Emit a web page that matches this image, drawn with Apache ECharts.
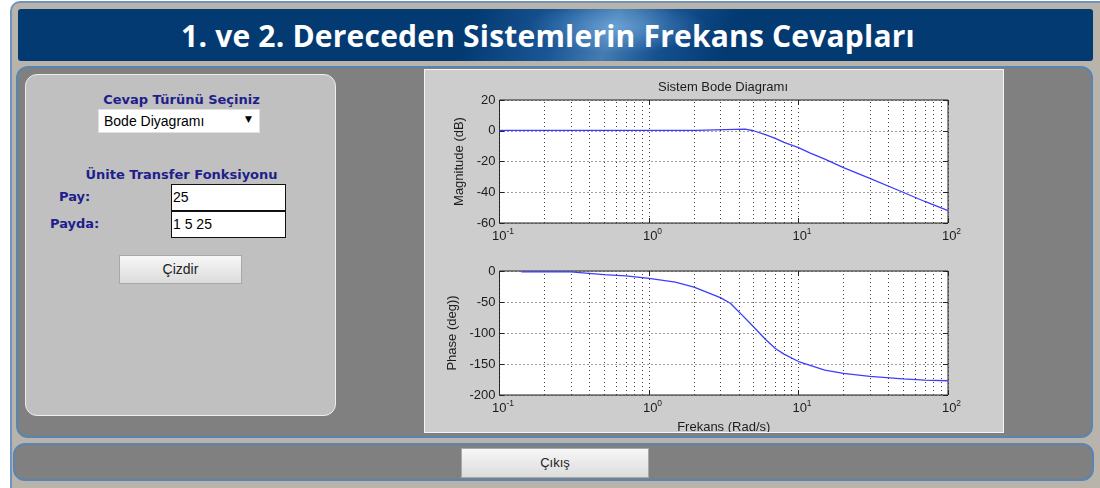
<!DOCTYPE html>
<html><head><meta charset="utf-8">
<script src="https://cdn.jsdelivr.net/npm/echarts@6/dist/echarts.min.js"></script>
<style>
html,body{margin:0;padding:0;width:1100px;height:488px;overflow:hidden;background:#fff;}
.a{position:absolute;box-sizing:border-box;}
#outer{left:10px;top:1px;width:1100px;height:500px;background:#b8b4ab;border:2px solid #6f93bb;border-radius:10px;}
#banner{left:18px;top:9px;width:1075px;height:52px;border-radius:3px;
 background:
  radial-gradient(ellipse 90px 26px at 600px 18px, rgba(150,205,255,0.45), rgba(150,205,255,0) 100%),
  linear-gradient(110deg, rgba(0,0,0,0) 42%, rgba(70,140,220,0.35) 50%, rgba(150,205,255,0.45) 55%, rgba(60,130,210,0.3) 60%, rgba(0,0,0,0) 66%),
  #033a72;}
#title{left:18px;top:15px;width:1060px;height:30px;line-height:30px;text-align:center;color:#fff;font:bold 30px "Open Sans",sans-serif;white-space:nowrap;letter-spacing:0.2px;}
#main{left:16px;top:66px;width:1077px;height:372px;background:#808080;border:2px solid #5b84b1;border-radius:12px;}
#left{left:25px;top:74px;width:311px;height:342px;background:#c0c0c0;border:1.5px solid #eeeeee;border-radius:12px;}
.lbl{color:#1e1e8c;font:bold 13px "DejaVu Sans",Verdana,sans-serif;white-space:nowrap;height:16px;line-height:16px;}
#sel{left:98px;top:109px;width:162px;height:24px;background:#fff;border:1px solid #e0e0e0;font:14px "Liberation Sans",Arial,sans-serif;line-height:22px;padding-left:5px;color:#000;}
#arrow{left:245px;top:114px;height:12px;line-height:12px;font:9px "DejaVu Sans",sans-serif;color:#000;}
.inp{background:#fff;border:1.5px solid #111;font:14px "Liberation Sans",Arial,sans-serif;color:#000;padding-left:1px;}
.btn{border:1px solid #a8a8a8;background:linear-gradient(#f7f7f7,#dcdcdc);font:14px "Liberation Sans",Arial,sans-serif;color:#222;text-align:center;}
#chartbox{left:424px;top:69px;width:580px;height:364px;background:#cdcdcd;border:1px solid #f5f5f5;}
#chart{position:absolute;left:425px;top:70px;width:578px;height:362px;}
#bottom{left:13px;top:443px;width:1081px;height:38px;background:#808080;border:2px solid #5b84b1;border-radius:12px;}
</style></head><body>
<div class="a" id="outer"></div>
<div class="a" id="banner"></div>
<div class="a" id="title">1. ve 2. Dereceden Sistemlerin Frekans Cevapları</div>
<div class="a" id="main"></div>
<div class="a" id="left"></div>
<div class="a lbl" style="left:25px;top:92px;width:313px;text-align:center;">Cevap Türünü Seçiniz</div>
<div class="a" id="sel">Bode Diyagramı</div>
<div class="a" id="arrow">▼</div>
<div class="a lbl" style="left:25px;top:167px;width:313px;text-align:center;">Ünite Transfer Fonksiyonu</div>
<div class="a lbl" style="left:59px;top:189px;">Pay:</div>
<div class="a lbl" style="left:50px;top:216px;">Payda:</div>
<div class="a inp" style="left:171px;top:184px;width:115px;height:27px;line-height:24px;">25</div>
<div class="a inp" style="left:171px;top:211px;width:115px;height:27px;line-height:24px;">1 5 25</div>
<div class="a btn" style="left:119px;top:255px;width:123px;height:29px;line-height:27px;">Çizdir</div>
<div class="a" id="chartbox"></div>
<div id="chart"></div>
<div class="a" id="bottom"></div>
<div class="a btn" style="left:461px;top:448px;width:188px;height:30px;line-height:28px;font-size:13px;">Çıkış</div>
<script>
// ---- data ----
const magFreq  = [0.1, 0.2, 0.5, 1, 2.05, 2.1, 4.4, 5, 6, 7, 8, 10, 12, 15, 20, 30, 50, 70, 100];
const magDb    = [0.2, 0.2, 0.2, 0.2, 0.2, 1.1, 1.1, 0, -2.5, -5, -7.5, -11, -14.5, -18.5, -24, -31, -40, -46, -52];
const phFreq   = [0.14, 0.3, 0.5, 0.7, 1, 1.5, 2, 3, 3.5, 4, 5, 6, 7, 8, 10, 15, 20, 30, 50, 70, 100];
const phDeg    = [-1.5, -1.5, -6, -8, -12, -18, -26, -43, -52, -66, -90, -110, -125, -134, -146, -160, -165, -170, -174, -176, -177];
const minorFreq = [0.2,0.3,0.4,0.5,0.6,0.7,0.8,0.9, 2,3,4,5,6,7,8,9, 20,30,40,50,60,70,80,90];
const magTicks = {min: -60, max: 20, step: 20};
const phTicks  = {min: -200, max: 0, step: 50};
const chartTitle = 'Sistem Bode Diagramı';
const xName = 'Frekans (Rad/s)';
const magName = 'Magnitude (dB)';
const phName = 'Phase (deg))';

const FONT = '"Liberation Sans", Arial, sans-serif';
const TXT = '#1c1c1c';
const dotted = {type: [1, 3], color: '#3a3a3a', width: 1};

function pairs(xs, ys) { return xs.map((x, i) => [x, ys[i]]); }

function xAx(grid, pos, labels, name) {
  return {
    type: 'log', logBase: 10, min: 0.1, max: 100, gridIndex: grid, position: pos,
    axisLine: {show: false, onZero: false},
    axisTick: {show: true, inside: true, length: 5, lineStyle: {color: '#222'}},
    splitLine: {show: labels, lineStyle: dotted},
    axisLabel: labels ? {
      show: true, margin: 4,
      formatter: v => '{b|10}{s|' + Math.round(Math.log10(v)) + '}',
      rich: {
        b: {fontSize: 13, fontFamily: FONT, color: TXT, padding: [0, 0, 0, 7]},
        s: {fontSize: 8.5, fontFamily: FONT, color: TXT, padding: [0, 0, 9, 0]}
      }
    } : {show: false},
    name: name || '', nameLocation: 'middle', nameGap: 26,
    nameTextStyle: {fontSize: 13, fontFamily: FONT, color: TXT}
  };
}
function yAx(grid, pos, t, labels, name, gap) {
  return {
    type: 'value', gridIndex: grid, position: pos, min: t.min, max: t.max, interval: t.step,
    axisLine: {show: false, onZero: false},
    axisTick: {show: true, inside: true, length: 5, lineStyle: {color: '#222'}},
    splitLine: {show: labels, lineStyle: dotted},
    axisLabel: {show: labels, margin: 4, fontSize: 13, fontFamily: FONT, color: TXT},
    name: name || '', nameLocation: 'middle', nameGap: gap || 0,
    nameTextStyle: {fontSize: 13, fontFamily: FONT, color: TXT}
  };
}
function gridLines(xi, yi) {
  return {
    type: 'line', xAxisIndex: xi, yAxisIndex: yi, data: [], z: 1, silent: true,
    markLine: {
      silent: true, symbol: ['none', 'none'], animation: false,
      label: {show: false}, lineStyle: dotted,
      data: minorFreq.map(f => ({xAxis: f}))
    }
  };
}

const chart = echarts.init(document.getElementById('chart'), null, {renderer: 'canvas'});
chart.setOption({
  animation: false,
  backgroundColor: 'transparent',
  graphic: [{
    type: 'text', x: 298, y: 17,
    style: {text: chartTitle, font: '13px ' + FONT, fill: TXT, textAlign: 'center', textVerticalAlign: 'middle'}
  }],
  grid: [
    {left: 74.5, top: 30, width: 448.5, height: 123, show: true, backgroundColor: '#fff', borderColor: '#222', borderWidth: 1, outerBoundsMode: 'none', containLabel: false},
    {left: 74.5, top: 201, width: 448.5, height: 124, show: true, backgroundColor: '#fff', borderColor: '#222', borderWidth: 1, outerBoundsMode: 'none', containLabel: false}
  ],
  xAxis: [xAx(0, 'bottom', true), xAx(0, 'top', false), xAx(1, 'bottom', true, xName), xAx(1, 'top', false)],
  yAxis: [yAx(0, 'left', magTicks, true, magName, 23), yAx(0, 'right', magTicks, false),
          yAx(1, 'left', phTicks, true, phName, 34), yAx(1, 'right', phTicks, false)],
  series: [
    gridLines(0, 0), gridLines(2, 2),
    {type: 'line', xAxisIndex: 0, yAxisIndex: 0, data: pairs(magFreq, magDb), symbol: 'none', z: 3,
     lineStyle: {color: '#3d3dff', width: 1.3}},
    {type: 'line', xAxisIndex: 2, yAxisIndex: 2, data: pairs(phFreq, phDeg), symbol: 'none', z: 3,
     lineStyle: {color: '#3d3dff', width: 1.3}}
  ]
});
</script>
</body></html>
